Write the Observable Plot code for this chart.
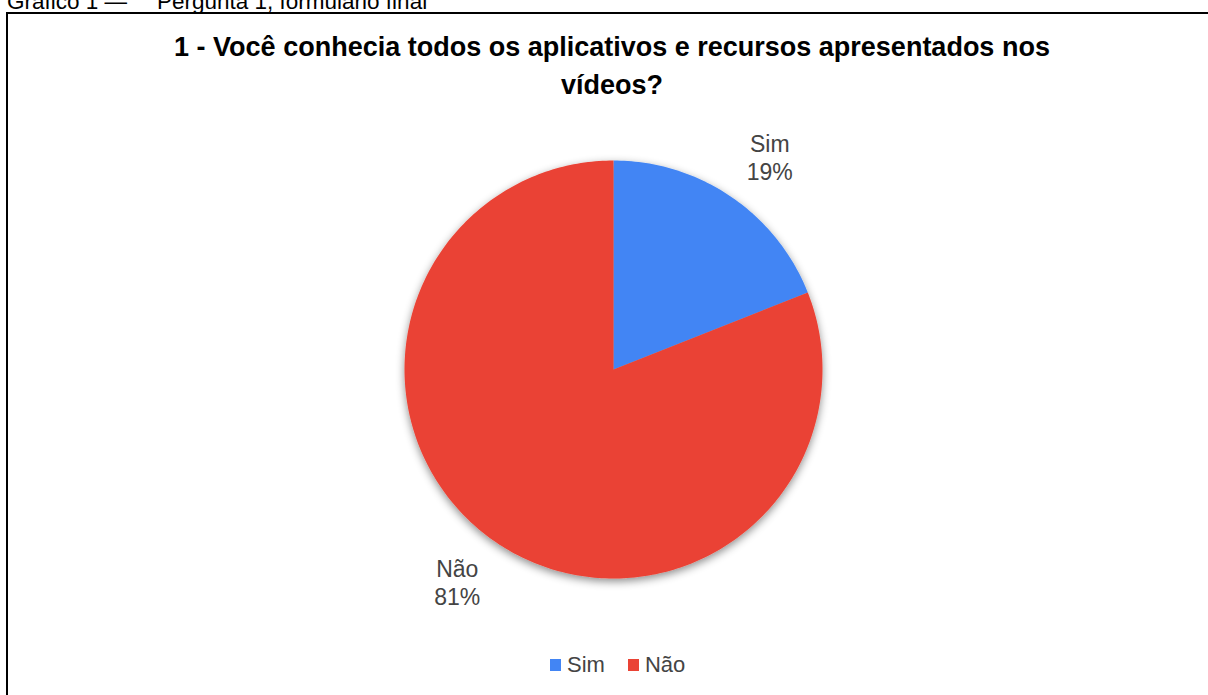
<!DOCTYPE html>
<html>
<head>
<meta charset="utf-8">
<script src="https://cdn.jsdelivr.net/npm/d3@7"></script>
<script src="https://cdn.jsdelivr.net/npm/@observablehq/plot@0.6"></script>
<style>
  html, body { margin: 0; padding: 0; background: #fff; }
  #wrap { position: relative; width: 1208px; height: 695px; overflow: hidden; font-family: Arial, "Liberation Sans", sans-serif; }
  .cap { position: absolute; top: -9px; font-size: 22.5px; line-height: 22.5px; color: #000; white-space: pre; }
  #box { position: absolute; left: 6px; top: 12px; width: 1400px; height: 900px; border-left: 2px solid #000; border-top: 2px solid #000; }
  #title { position: absolute; left: 112px; width: 1000px; top: 28px; text-align: center; font-weight: bold; font-size: 27px; line-height: 38px; color: #000; }
  #chart { position: absolute; left: 0; top: 0; }
  #legend { position: absolute; left: 550px; top: 653px; display: flex; align-items: center; font-size: 22px; line-height: 24px; color: #444; }
  .sw { width: 11px; height: 12px; display: inline-block; margin-right: 6px; }
  .item { display: flex; align-items: center; margin-right: 23px; }
</style>
</head>
<body>
<div id="wrap">
  <div class="cap" style="left:7px">Gráfico 1 —</div>
  <div class="cap" style="left:157px">Pergunta 1, formulário final</div>
  <div id="box"></div>
  <div id="title">1 - Você conhecia todos os aplicativos e recursos apresentados nos<br>vídeos?</div>
  <div id="chart"></div>
  <div id="legend"></div>
</div>
<script>
const categories = ["Sim", "Não"];
const values = [19, 81];
const colors = ["#4285F4", "#EA4335"];

const data = categories.map((name, i) => ({name, value: values[i]}));
const arcs = d3.pie().sort(null).value(d => d.value)(data);

// polygon points for each slice (unit circle, clockwise from top)
const slicePts = [];
for (const a of arcs) {
  slicePts.push({name: a.data.name, x: 0, y: 0});
  const n = Math.max(2, Math.ceil((a.endAngle - a.startAngle) / (2 * Math.PI) * 360));
  for (let k = 0; k <= n; k++) {
    const t = a.startAngle + (a.endAngle - a.startAngle) * k / n;
    slicePts.push({name: a.data.name, x: Math.sin(t), y: Math.cos(t)});
  }
}
const kx = 1.33, ky = 1.23;
const labels = arcs.map(a => {
  const m = (a.startAngle + a.endAngle) / 2;
  return {name: a.data.name, x: kx * Math.sin(m), y: ky * Math.cos(m), text: `${a.data.name}\n${a.data.value}%`};
});

const cx = 613, cy = 369, r = 209;
const plot = Plot.plot({
  width: 1208,
  height: 695,
  margin: 0,
  style: {background: "transparent", overflow: "visible"},
  x: {type: "linear", domain: [-1, 1], range: [cx - r, cx + r], axis: null},
  y: {type: "linear", domain: [-1, 1], range: [cy + r, cy - r], axis: null},
  color: {domain: categories, range: colors},
  marks: [
    Plot.line(slicePts, {x: "x", y: "y", z: "name", fill: "name", stroke: "none", curve: "linear"}),
    Plot.text(labels, {x: "x", y: "y", text: "text", fontSize: 23, lineHeight: 1.22, fill: "#444", fontFamily: "Arial, 'Liberation Sans', sans-serif"})
  ]
});

// drop shadow on the pie
const svg = d3.select(plot);
svg.insert("defs", ":first-child").html(
  '<filter id="pieShadow" x="-20%" y="-20%" width="140%" height="140%"><feDropShadow dx="0" dy="3" stdDeviation="4" flood-color="#000" flood-opacity="0.45"/></filter>');
svg.select('g[aria-label="line"]').attr("filter", "url(#pieShadow)");
document.getElementById("chart").appendChild(plot);

// legend
const leg = document.getElementById("legend");
categories.forEach((c, i) => {
  const it = document.createElement("div");
  it.className = "item";
  const sw = document.createElement("span");
  sw.className = "sw";
  sw.style.background = colors[i];
  const tx = document.createElement("span");
  tx.textContent = c;
  it.appendChild(sw); it.appendChild(tx);
  leg.appendChild(it);
});
</script>
</body>
</html>
